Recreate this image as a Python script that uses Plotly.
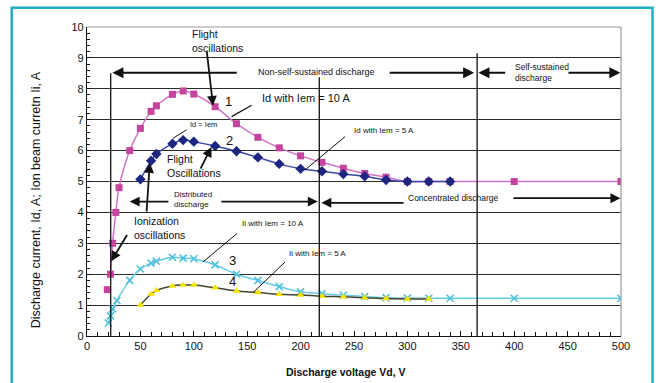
import plotly.graph_objects as go

# Discharge voltage Vd, V and currents, A
id10_x = [22, 24, 27, 30, 40, 50, 60, 65, 80, 90, 100, 120, 140, 160, 180, 200,
          220, 240, 260, 280, 300, 320, 340, 400, 500]
id10_y = [2.0, 3.0, 4.0, 4.8, 6.0, 6.72, 7.27, 7.45, 7.82, 7.93, 7.83, 7.42, 6.87,
          6.43, 6.09, 5.83, 5.62, 5.43, 5.26, 5.14, 5.0, 5.0, 5.0, 5.0, 5.0]
id10_extra_x = [19]
id10_extra_y = [1.5]

id5_x = [50, 60, 65, 80, 90, 100, 120, 140, 160, 180, 200, 220, 240, 260, 280,
         300, 320, 340]
id5_y = [5.07, 5.67, 5.89, 6.22, 6.34, 6.29, 6.15, 5.98, 5.78, 5.57, 5.41, 5.33,
         5.24, 5.17, 5.05, 5.0, 5.0, 5.0]

ii10_x = [20, 22, 24, 28, 40, 50, 60, 65, 80, 90, 100, 120, 140, 160, 180, 200,
          220, 240, 260, 280, 300, 320, 340, 400, 500]
ii10_y = [0.42, 0.65, 0.88, 1.15, 1.8, 2.17, 2.36, 2.42, 2.55, 2.52, 2.5, 2.3,
          2.0, 1.8, 1.6, 1.43, 1.37, 1.32, 1.28, 1.24, 1.23, 1.22, 1.22, 1.22, 1.22]

ii5_x = [50, 60, 65, 80, 90, 100, 120, 140, 160, 180, 200, 220, 240, 260, 280,
         300, 320]
ii5_y = [1.0, 1.36, 1.47, 1.62, 1.65, 1.65, 1.56, 1.46, 1.41, 1.35, 1.33, 1.29,
         1.27, 1.24, 1.21, 1.2, 1.2]

x_ticks = [0, 50, 100, 150, 200, 250, 300, 350, 400, 450, 500]
y_ticks = [0, 1, 2, 3, 4, 5, 6, 7, 8, 9, 10]

x_title = "Discharge voltage Vd, V"
y_title = "Discharge current, Id, A; Ion beam curretn Ii, A"

FONT = "Liberation Sans, Arial, sans-serif"

fig = go.Figure()

fig.add_trace(go.Scatter(
    x=id10_x, y=id10_y, mode="lines+markers", line_shape="spline",
    line=dict(color="#D272C8", width=1.5),
    marker=dict(symbol="square", size=7, color="#C4449E")))
fig.add_trace(go.Scatter(
    x=id10_extra_x, y=id10_extra_y, mode="markers",
    marker=dict(symbol="square", size=7, color="#C4449E")))
fig.add_trace(go.Scatter(
    x=id5_x, y=id5_y, mode="lines+markers", line_shape="spline",
    line=dict(color="#3A48A8", width=1.5),
    marker=dict(symbol="diamond", size=8, color="#1C2580")))
fig.add_trace(go.Scatter(
    x=ii10_x, y=ii10_y, mode="lines+markers", line_shape="spline",
    line=dict(color="#66CCE6", width=1.5),
    marker=dict(symbol="x-thin", size=7, line=dict(color="#4FBFDD", width=1.6))))
fig.add_trace(go.Scatter(
    x=ii5_x, y=ii5_y, mode="lines+markers", line_shape="spline",
    line=dict(color="#45452E", width=1.5),
    marker=dict(symbol="triangle-up", size=7, color="#F2E200")))

shapes = []


def seg(x0, y0, x1, y1, w=1.3, color="#111111"):
    shapes.append(dict(type="line", xref="x", yref="y", x0=x0, y0=y0, x1=x1, y1=y1,
                       line=dict(color=color, width=w), layer="above"))


# frame of plot area (top, right)
shapes.append(dict(type="line", xref="paper", yref="paper", x0=0, y0=1, x1=1, y1=1,
                   line=dict(color="#9A9A9A", width=1.2)))
shapes.append(dict(type="line", xref="paper", yref="paper", x0=1, y0=0, x1=1, y1=1,
                   line=dict(color="#9A9A9A", width=1.2)))

# regime boundaries
seg(22.2, 0, 22.2, 8.5)
seg(217.5, 0, 217.5, 8.37)
seg(365.3, 0, 365.3, 9.15)

# pointer lines to curve labels
seg(135.4, 7.1, 154.1, 7.47, w=1.2)
seg(80.6, 6.4, 93.2, 6.67, w=1.0)
seg(204, 5.37, 241.6, 6.45, w=1.0)
seg(108.7, 2.4, 140.6, 3.32, w=1.0)
seg(155.6, 1.41, 185.3, 2.39, w=1.0)

# teal frame around the figure
shapes.append(dict(type="rect", xref="paper", yref="paper",
                   x0=-0.141, y0=-0.18, x1=1.059, y1=1.062,
                   line=dict(color="#1DAFC0", width=2.5), layer="below"))

annotations = []


def arrow(x0, y0, x1, y1, w=1.6):
    annotations.append(dict(x=x1, y=y1, ax=x0, ay=y0, xref="x", yref="y",
                            axref="x", ayref="y", text="", showarrow=True,
                            arrowhead=2, arrowsize=1.1, arrowwidth=w,
                            arrowcolor="#111111"))


def label(x, y, text, size=11, anchor="left"):
    annotations.append(dict(x=x, y=y, xref="x", yref="y", text=text, showarrow=False,
                            xanchor=anchor, yanchor="middle", align="left",
                            font=dict(family=FONT, size=size, color="#111111")))


# discharge regime arrows
arrow(141.6, 8.52, 23.8, 8.52, w=2)
arrow(282, 8.52, 362.5, 8.52, w=2)
arrow(393, 8.52, 366.5, 8.52, w=2)
arrow(449.4, 8.52, 499.4, 8.52, w=2)
label(215, 8.55, "Non-self-sustained discharge", size=9, anchor="center")
label(399, 8.54, "Self-sustained<br>discharge", size=8.5)

arrow(77.6, 4.35, 40, 4.35, w=1.8)
arrow(124.4, 4.35, 216, 4.35, w=1.8)
arrow(297.8, 4.31, 219.5, 4.31, w=1.8)
arrow(397.8, 4.46, 499.4, 4.46, w=1.8)
label(99.3, 4.42, "Distributed<br>discharge", size=8, anchor="center")
label(343, 4.46, "Concentrated discharge", size=8.5, anchor="center")

# oscillation pointers
arrow(112, 9.26, 118, 7.45, w=1.8)
label(96.5, 9.56, "Flight<br>oscillations", size=10.5)
arrow(105.6, 5.37, 116.6, 6.12, w=1.8)
label(72.8, 5.5, "Flight<br>Oscillations", size=10.5)
arrow(55.7, 3.98, 58.8, 5.6, w=1.8)
arrow(38.4, 3.32, 22.6, 2.42, w=1.8)
label(42, 3.48, "Ionization<br>oscillations", size=10.5)

# curve labels
label(127, 7.58, "1", size=13)
label(128, 6.34, "2", size=13)
label(131.2, 2.43, "3", size=13)
label(130.7, 1.76, "4", size=13)
label(161.9, 7.69, "Id with Iem = 10 A", size=11)
label(94.7, 6.85, "Id = Iem", size=7.5)
label(247.8, 6.64, "Id with Iem = 5 A", size=8)
label(143.1, 3.65, "Ii with Iem = 10 A", size=8)
label(186.9, 2.68, "Ii with Iem = 5 A", size=8)

# axis titles
annotations.append(dict(x=0.485, y=-0.117, xref="paper", yref="paper",
                        text="<b>" + x_title + "</b>", showarrow=False,
                        xanchor="center", yanchor="middle",
                        font=dict(family=FONT, size=10.5, color="#111111")))
annotations.append(dict(x=-0.095, y=0.44, xref="paper", yref="paper",
                        text=y_title, showarrow=False, textangle=-90,
                        xanchor="center", yanchor="middle",
                        font=dict(family=FONT, size=12.5, color="#111111")))

fig.update_layout(
    width=656, height=383,
    margin=dict(l=87, r=35, t=27, b=47),
    paper_bgcolor="white", plot_bgcolor="white",
    showlegend=False,
    font=dict(family=FONT, size=11, color="#111111"),
    shapes=shapes, annotations=annotations,
    xaxis=dict(
        range=[0, 500], tickvals=x_ticks, ticktext=[str(v) for v in x_ticks],
        showgrid=False, zeroline=False, showline=True, linecolor="#111111",
        linewidth=1.3, ticks="inside", ticklen=5, tickcolor="#111111",
        minor=dict(dtick=10, ticks="inside", ticklen=4, tickcolor="#111111"),
        tickfont=dict(size=11), automargin=False,
    ),
    yaxis=dict(
        range=[0, 10], tickvals=y_ticks, ticktext=[str(v) for v in y_ticks],
        showgrid=True, gridcolor="#2A2A2A", gridwidth=1.2, zeroline=False,
        showline=True, linecolor="#111111", linewidth=1.3,
        ticks="inside", ticklen=4, tickcolor="#111111",
        minor=dict(dtick=0.2, ticks="inside", ticklen=3, tickcolor="#111111",
                   showgrid=False),
        tickfont=dict(size=11), automargin=False,
    ),
)

fig.write_html("out.html")
